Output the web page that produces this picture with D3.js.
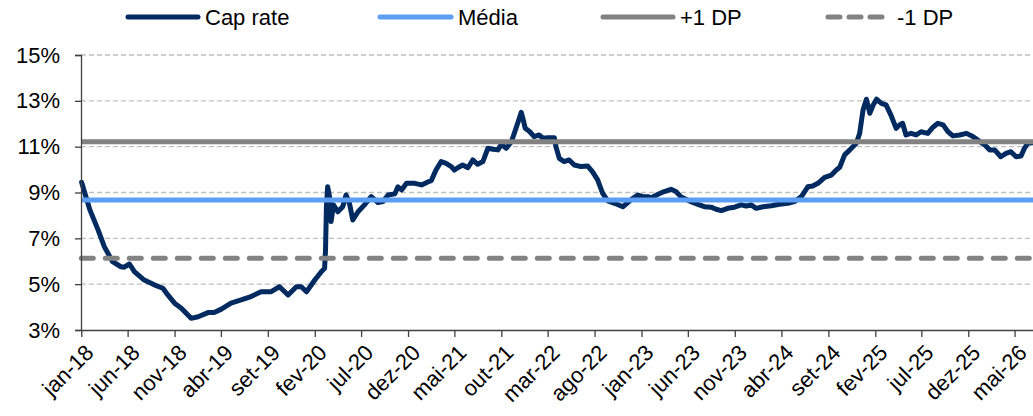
<!DOCTYPE html>
<html>
<head>
<meta charset="utf-8">
<script src="https://cdn.jsdelivr.net/npm/d3@7"></script>
<style>
  body { margin: 0; background: #fff; }
  text { font-family: "Liberation Sans", Arial, sans-serif; fill: #000; }
</style>
</head>
<body>
<svg id="chart" width="1033" height="416"></svg>
<script>
// Cap rate series
const capDates = [
  "2018-01-02","2018-01-29","2018-02-25","2018-03-17","2018-04-13","2018-05-10","2018-05-21","2018-06-07","2018-06-23","2018-07-25","2018-08-27","2018-09-24","2018-10-10","2018-11-01","2018-11-23","2018-12-25",
  "2019-01-17","2019-02-18","2019-03-10","2019-04-01","2019-05-04","2019-06-06","2019-07-08","2019-08-10","2019-09-12","2019-10-09","2019-11-06","2019-12-03","2019-12-19",
  "2020-01-05","2020-02-01","2020-02-23","2020-03-04","2020-03-07","2020-03-10","2020-03-14","2020-03-20","2020-03-25","2020-04-02","2020-04-16","2020-05-02","2020-05-13","2020-05-24","2020-06-04","2020-06-21","2020-07-12","2020-08-03","2020-08-25","2020-09-10","2020-09-27","2020-10-19","2020-10-29","2020-11-10","2020-11-26","2020-12-23",
  "2021-01-14","2021-02-05","2021-02-15","2021-03-02","2021-03-19","2021-04-04","2021-04-21","2021-05-01","2021-05-12","2021-05-28","2021-06-14","2021-06-30","2021-07-16","2021-08-02","2021-08-18","2021-09-04","2021-09-20","2021-10-01","2021-10-17","2021-11-03","2021-11-14","2021-11-25","2021-12-05","2021-12-13","2021-12-18",
  "2022-01-02","2022-01-16","2022-02-01","2022-02-14","2022-03-01","2022-03-23","2022-03-28","2022-04-08","2022-04-24","2022-05-10","2022-05-27","2022-06-18","2022-07-09","2022-07-25","2022-08-11","2022-08-27","2022-09-13","2022-10-05","2022-11-01","2022-11-18","2022-12-04","2022-12-20",
  "2023-01-06","2023-01-22","2023-02-02","2023-02-24","2023-03-16","2023-04-07","2023-04-23","2023-05-09","2023-06-11","2023-07-08","2023-07-25","2023-08-16","2023-09-01","2023-09-18","2023-10-09","2023-10-31","2023-11-22","2023-12-08","2023-12-24",
  "2024-01-10","2024-02-01","2024-02-28","2024-03-25","2024-04-22","2024-05-13","2024-06-05","2024-06-26","2024-07-12","2024-07-29","2024-08-20","2024-09-11","2024-09-27","2024-10-08","2024-10-24","2024-11-10","2024-12-01","2024-12-12","2024-12-23",
  "2025-01-03","2025-01-14","2025-01-25","2025-02-05","2025-02-21","2025-03-08","2025-03-24","2025-04-10","2025-04-21","2025-05-01","2025-05-12","2025-05-29","2025-06-14","2025-06-30","2025-07-22","2025-08-08","2025-08-24","2025-09-10","2025-09-26","2025-10-12","2025-11-03","2025-11-25","2025-12-16",
  "2026-01-08","2026-01-24","2026-02-09","2026-02-25","2026-03-17","2026-04-03","2026-04-19","2026-05-06","2026-05-22","2026-06-02","2026-06-13","2026-06-28"
];
const capRate = [
  9.45,8.24,7.36,6.64,5.98,5.76,5.74,5.88,5.55,5.18,4.97,4.82,4.53,4.17,3.95,3.51,
  3.58,3.76,3.76,3.90,4.17,4.31,4.46,4.67,4.67,4.89,4.53,4.89,4.89,
  4.67,5.18,5.55,5.69,6.49,8.38,9.25,8.82,7.73,8.46,8.16,8.38,8.89,8.53,7.80,8.16,8.46,8.82,8.56,8.60,8.89,8.94,9.25,9.11,9.40,9.40,
  9.33,9.47,9.52,9.98,10.35,10.27,10.13,9.98,10.08,10.20,10.08,10.42,10.23,10.35,10.93,10.89,10.86,11.10,10.93,11.22,11.65,12.09,12.50,12.09,11.80,
  11.65,11.44,11.51,11.37,11.39,11.39,11.00,10.49,10.35,10.42,10.20,10.13,10.16,9.91,9.55,8.97,8.63,8.53,8.38,8.57,8.75,8.89,
  8.82,8.82,8.77,8.92,9.04,9.14,9.04,8.82,8.60,8.46,8.38,8.36,8.27,8.21,8.31,8.36,8.46,8.41,8.46,
  8.31,8.38,8.42,8.49,8.53,8.60,8.82,9.25,9.28,9.40,9.66,9.76,9.98,10.10,10.64,10.86,11.15,11.58,12.60,
  13.07,12.46,12.82,13.07,12.89,12.82,12.38,11.80,11.95,12.02,11.51,11.58,11.51,11.65,11.58,11.85,12.02,11.95,11.65,11.47,11.51,11.58,11.44,
  11.22,11.07,10.86,10.86,10.56,10.71,10.78,10.56,10.59,10.93,11.15,11.17
];

// reference levels
const media = 8.67;
const dpUp = 11.21;
const dpDown = 6.13;

const yTicks = [3, 5, 7, 9, 11, 13, 15];
const xTickLabels = ["jan-18","jun-18","nov-18","abr-19","set-19","fev-20","jul-20","dez-20","mai-21","out-21","mar-22","ago-22","jan-23","jun-23","nov-23","abr-24","set-24","fev-25","jul-25","dez-25","mai-26"];
const meses = ["jan","fev","mar","abr","mai","jun","jul","ago","set","out","nov","dez"];
const seriesNames = ["Cap rate", "Média", "+1 DP", "-1 DP"];

const parse = d3.timeParse("%Y-%m-%d");
const data = capDates.map(function (d, i) { return { date: parse(d), value: capRate[i] }; });

function labelToDate(s) {
  const p = s.split("-");
  return new Date(2000 + (+p[1]), meses.indexOf(p[0]), 1);
}
const xTicks = xTickLabels.map(labelToDate);

const svg = d3.select("#chart");
const fontSize = 22;

const x = d3.scaleTime()
  .domain([new Date(2018, 0, 1), new Date(2026, 5, 30)])
  .range([81.3, 1033]);

const y = d3.scaleLinear()
  .domain([3, 15])
  .range([330, 55]);

// gridlines
svg.append("g")
  .selectAll("line")
  .data(yTicks.filter(function (d) { return d > 3; }))
  .join("line")
    .attr("x1", 81)
    .attr("x2", 1033)
    .attr("y1", function (d) { return y(d); })
    .attr("y2", function (d) { return y(d); })
    .attr("stroke", "#bfbfbf")
    .attr("stroke-width", 1.3)
    .attr("stroke-dasharray", "5,3");

// cap rate line
const line = d3.line()
  .x(function (d) { return x(d.date); })
  .y(function (d) { return y(d.value); });

svg.append("path")
  .datum(data)
  .attr("d", line)
  .attr("fill", "none")
  .attr("stroke", "#002A60")
  .attr("stroke-width", 5)
  .attr("stroke-linejoin", "round")
  .attr("stroke-linecap", "round");

// reference lines
const refs = [
  { v: media, color: "#5B9EF4", dash: null },
  { v: dpUp, color: "#828282", dash: null },
  { v: dpDown, color: "#828282", dash: "12,12" }
];

svg.append("g")
  .selectAll("line")
  .data(refs)
  .join("line")
    .attr("x1", x.range()[0])
    .attr("x2", x.range()[1])
    .attr("y1", function (d) { return y(d.v); })
    .attr("y2", function (d) { return y(d.v); })
    .attr("stroke", function (d) { return d.color; })
    .attr("stroke-width", 5)
    .attr("stroke-linecap", function (d) { return d.dash ? "round" : "butt"; })
    .attr("stroke-dasharray", function (d) { return d.dash; });

// y axis
const yAxis = svg.append("g")
  .attr("transform", "translate(81,0)")
  .call(d3.axisLeft(y).tickValues(yTicks).tickFormat(function (d) { return d + "%"; }).tickSize(6).tickPadding(15));
yAxis.select(".domain").attr("stroke", "#404040").attr("stroke-width", 1.3);
yAxis.selectAll(".tick line").attr("stroke", "#404040").attr("stroke-width", 1.3);
yAxis.selectAll("text").attr("font-size", fontSize).attr("fill", "#000")
  .attr("font-family", "Liberation Sans, Arial, sans-serif");

// x axis
const xAxis = svg.append("g")
  .attr("transform", "translate(0,330)")
  .call(d3.axisBottom(x).tickValues(xTicks).tickFormat(function (d, i) { return xTickLabels[i]; }).tickSize(7).tickSizeOuter(0));
xAxis.select(".domain").attr("stroke", "#404040").attr("stroke-width", 1.3);
xAxis.selectAll(".tick line").attr("stroke", "#404040").attr("stroke-width", 1.3);
xAxis.selectAll("text")
  .attr("font-size", fontSize)
  .attr("fill", "#000")
  .attr("font-family", "Liberation Sans, Arial, sans-serif")
  .attr("text-anchor", "end")
  .attr("dy", 0)
  .attr("y", 0)
  .attr("transform", "translate(13,24) rotate(-45)");

// legend
const legendItems = [
  { name: seriesNames[0], x1: 128, x2: 198, color: "#002A60", dash: null },
  { name: seriesNames[1], x1: 380, x2: 451, color: "#5B9EF4", dash: null },
  { name: seriesNames[2], x1: 603, x2: 673, color: "#828282", dash: null },
  { name: seriesNames[3], x1: 828, x2: 890, color: "#828282", dash: "12,9" }
];
const lg = svg.append("g")
  .selectAll("g")
  .data(legendItems)
  .join("g");
lg.append("line")
  .attr("x1", function (d) { return d.x1; })
  .attr("x2", function (d) { return d.x2; })
  .attr("y1", 17)
  .attr("y2", 17)
  .attr("stroke", function (d) { return d.color; })
  .attr("stroke-width", 5)
  .attr("stroke-linecap", "round")
  .attr("stroke-dasharray", function (d) { return d.dash; });
lg.append("text")
  .attr("x", function (d) { return d.x2 + 7; })
  .attr("y", 25)
  .attr("font-size", fontSize)
  .text(function (d) { return d.name; });
</script>
</body>
</html>
